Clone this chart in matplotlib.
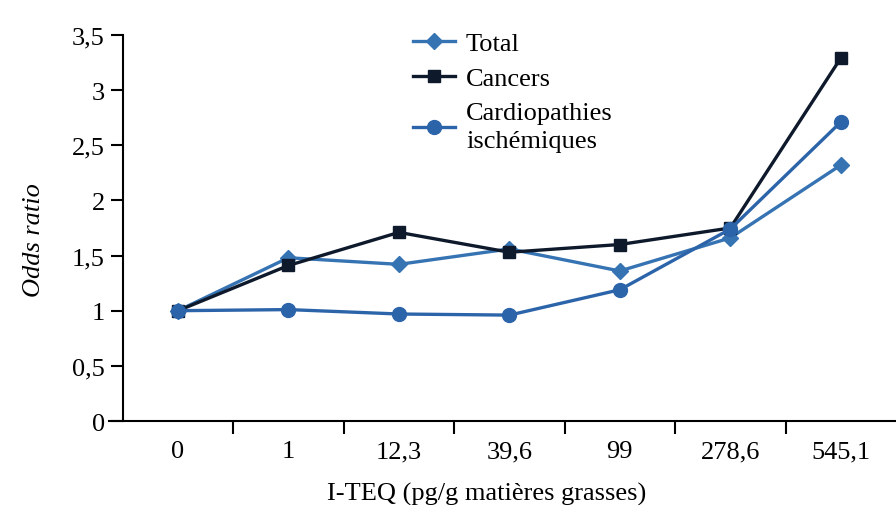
import matplotlib.pyplot as plt
import numpy as np
from matplotlib.ticker import FixedLocator

plt.rcParams['font.family'] = ['Liberation Serif', 'DejaVu Serif']

# ------------------ DONNÉES ------------------
categories = ["0", "1", "12,3", "39,6", "99", "278,6", "545,1"]
total = [1.0, 1.48, 1.42, 1.56, 1.36, 1.66, 2.32]
cancers = [1.0, 1.41, 1.71, 1.53, 1.60, 1.75, 3.29]
cardio = [1.0, 1.01, 0.97, 0.96, 1.19, 1.74, 2.71]
y_ticks = [0, 0.5, 1, 1.5, 2, 2.5, 3, 3.5]

bleu = '#3673b3'
bleu2 = '#2c64aa'
noir = '#0e1a2c'

fig = plt.figure(figsize=(8.96, 5.06), dpi=100)
ax = fig.add_axes([0.137, 0.166, 0.863, 0.763])

x = np.arange(len(categories))
ax.plot(x, total, color=bleu, lw=2.4, marker='D', ms=8, label='Total')
ax.plot(x, cancers, color=noir, lw=2.4, marker='s', ms=9, label='Cancers')
ax.plot(x, cardio, color=bleu2, lw=2.4, marker='o', ms=10,
        label='Cardiopathies\nischémiques')

ax.set_xlim(-0.5, 6.5)
ax.set_ylim(0, 3.5)
ax.set_yticks(y_ticks)
ax.set_yticklabels([f"{v:g}".replace('.', ',') for v in y_ticks], fontsize=19)
ax.set_xticks(x)
ax.set_xticklabels(categories, fontsize=19)
ax.xaxis.set_minor_locator(FixedLocator(x[:-1] + 0.5))
ax.tick_params(axis='x', which='major', length=0, pad=14)
ax.tick_params(axis='x', which='minor', length=9, width=1.5, direction='out')
ax.tick_params(axis='y', length=9, width=1.5, direction='out', pad=4)

for s in ['top', 'right']:
    ax.spines[s].set_visible(False)
ax.spines['left'].set_linewidth(1.5)
ax.spines['bottom'].set_linewidth(1.5)
ax.spines['bottom'].set_bounds(-0.62, 6.5)

ax.set_ylabel('Odds ratio', fontsize=19, style='italic')
ax.yaxis.set_label_coords(-0.10, 0.47)
ax.set_xlabel('I-TEQ (pg/g matières grasses)', fontsize=19)
ax.xaxis.set_label_coords(0.47, -0.158)

leg = ax.legend(loc='upper left', bbox_to_anchor=(0.345, 1.07), frameon=False,
                fontsize=19, handlelength=1.6, handletextpad=0.4,
                labelspacing=0.45)
for t in leg.get_texts():
    t.set_linespacing(1.35)

plt.savefig('out.png', dpi=100)
